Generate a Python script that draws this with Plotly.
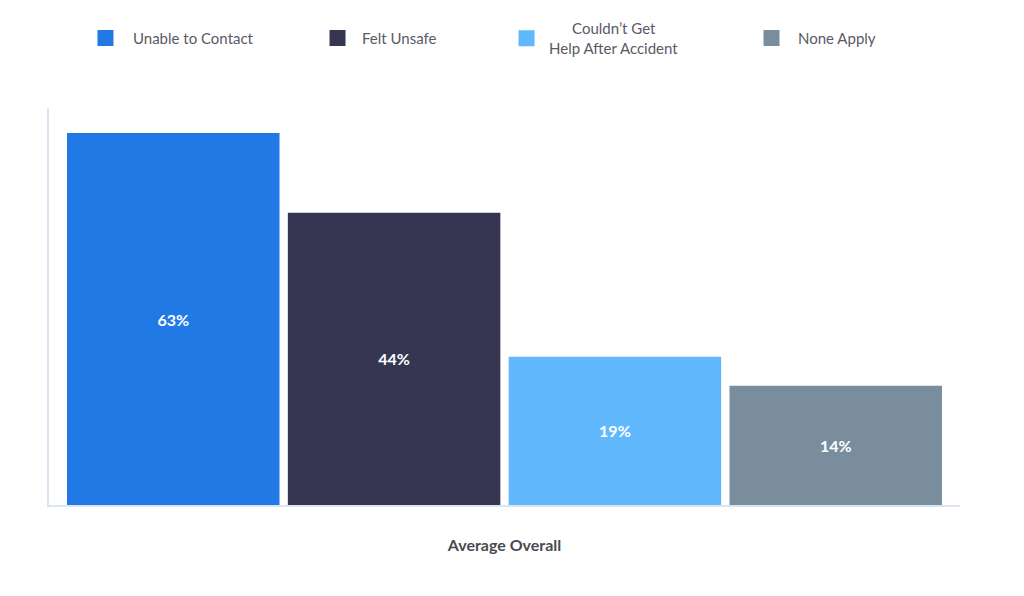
import plotly.graph_objects as go

category = ["Average Overall"]
series_names = ["Unable to Contact", "Felt Unsafe",
                "\u00a0\u00a0\u00a0\u00a0\u00a0\u00a0Couldn\u2019t Get<br>Help After Accident", "None Apply"]
labels = [63, 44, 19, 14]              # printed values
bar_heights = [63, 49.5, 25.1, 20.2]   # drawn heights
colors = ["#2079e5", "#363653", "#62b8fd", "#798d9c"]

legend_ids = ["legend", "legend2", "legend3", "legend4"]
legend_x = [0.0318, 0.2898, 0.4995, 0.764]
legend_itemwidth = [45, 39, 35, 43]

fig = go.Figure()
for name, h, lab, c, lid in zip(series_names, bar_heights, labels, colors, legend_ids):
    fig.add_trace(go.Bar(
        x=category, y=[h], text=[f"{lab}%"], name=name,
        marker=dict(color=c, line=dict(width=0)),
        textposition="inside", insidetextanchor="middle", textangle=0,
        textfont=dict(family="Lato", size=16, color="white", weight="bold"),
        showlegend=False, hoverinfo="skip",
    ))
    fig.add_trace(go.Scatter(
        x=[None], y=[None], mode="markers", name=name, legend=lid,
        marker=dict(symbol="square", size=17, color=c),
        showlegend=True,
    ))

legend_common = dict(orientation="h", xanchor="left", y=1.176, yanchor="middle",
                     font=dict(family="Lato", size=15, color="#5a5a66"),
                     bgcolor="rgba(0,0,0,0)",
                     itemclick=False, itemdoubleclick=False)
legend_layout = {}
for lid, lx, iw in zip(legend_ids, legend_x, legend_itemwidth):
    legend_layout[lid] = dict(legend_common, x=lx, itemwidth=iw)

fig.update_layout(
    width=1016, height=588,
    margin=dict(l=41, r=64, t=100, b=91, autoexpand=False),
    paper_bgcolor="white", plot_bgcolor="white",
    barmode="group", bargap=0.0304, bargroupgap=0.0376,
    font=dict(family="Lato", color="#555560"),
    xaxis=dict(showline=True, linecolor="#dbe4f3", linewidth=2, showgrid=False,
               ticks="", ticklabelstandoff=25,
               tickfont=dict(family="Lato", size=16, color="#4a4a52", weight="bold")),
    yaxis=dict(showline=True, linecolor="#dbe4f3", linewidth=2, showgrid=False,
               showticklabels=False, ticks="", range=[0, 67.24], zeroline=False),
    **legend_layout,
)

fig.write_html("out.html")
